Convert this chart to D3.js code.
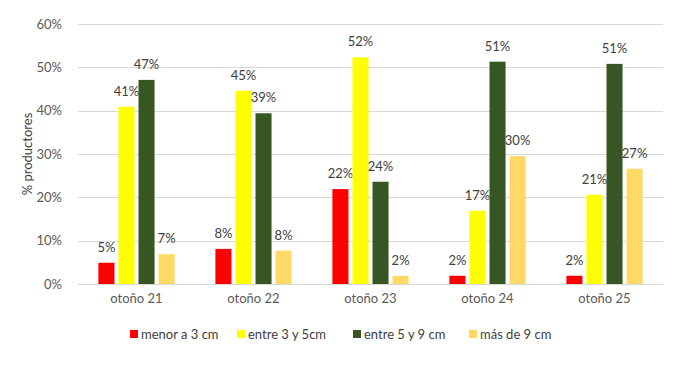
<!DOCTYPE html>
<html><head><meta charset="utf-8">
<script src="https://cdn.jsdelivr.net/npm/d3@7"></script>
<style>body{margin:0;background:#fff}svg{display:block}text{font-family:Lato,"Open Sans",sans-serif}</style>
</head><body><svg id="c" width="676" height="373"></svg>
<script>
const categories = ["otoño 21","otoño 22","otoño 23","otoño 24","otoño 25"];
const seriesNames = ["menor a 3 cm","entre 3 y 5cm","entre 5 y 9 cm","más de 9 cm"];
const menor3 = [0.049,0.081,0.219,0.019,0.019];
const entre3y5 = [0.409,0.446,0.523,0.169,0.206];
const entre5y9 = [0.471,0.394,0.236,0.513,0.508];
const mas9 = [0.069,0.077,0.019,0.295,0.266];
const yTicks = [0,0.1,0.2,0.3,0.4,0.5,0.6];
const colors = ["#FF0000","#FFFF00","#375623","#FFD966"];

const series = [menor3, entre3y5, entre5y9, mas9];
const svg = d3.select("#c");
const m = {l:78, r:13, t:24, b:89};
const W = 676, H = 373;
const FS = 13;
const x0 = d3.scaleBand().domain(categories).range([m.l, W-m.r]).paddingInner(0.28).paddingOuter(0.14);
const x1 = d3.scaleBand().domain(d3.range(4)).range([0, x0.bandwidth()]).padding(0.2);
const y = d3.scaleLinear().domain([0,0.6]).range([H-m.b, m.t]);

// grid
svg.append("g").selectAll("line").data(yTicks).join("line")
  .attr("x1", m.l).attr("x2", W-m.r)
  .attr("y1", d=>Math.round(y(d))+0.5).attr("y2", d=>Math.round(y(d))+0.5)
  .attr("stroke","#D9D9D9").attr("stroke-width",1);

// y axis labels
const ya = svg.append("g").attr("transform",`translate(${m.l-13},0)`)
  .call(d3.axisLeft(y).tickValues(yTicks).tickFormat(d3.format(".0%")).tickSize(0));
ya.select(".domain").remove();
ya.selectAll("text").attr("font-size",FS).attr("fill","#595959").attr("font-family","Lato, sans-serif");

// x axis labels
const xa = svg.append("g").attr("transform",`translate(0,${H-m.b})`)
  .call(d3.axisBottom(x0).tickSize(0).tickPadding(10));
xa.select(".domain").remove();
xa.selectAll("text").attr("font-size",FS).attr("fill","#595959").attr("font-family","Lato, sans-serif");

// y title
svg.append("text").attr("transform",`translate(32,${(m.t+H-m.b)/2}) rotate(-90)`)
  .attr("text-anchor","middle").attr("font-size",FS).attr("fill","#404040").text("% productores");

// bars
const fmt = d3.format(".0%");
series.forEach((vals,si)=>{
  const g = svg.append("g");
  g.selectAll("rect").data(vals).join("rect")
    .attr("x",(d,i)=>x0(categories[i])+x1(si))
    .attr("width",x1.bandwidth())
    .attr("y",d=>y(d)).attr("height",d=>y(0)-y(d))
    .attr("fill",colors[si]);
  g.selectAll("text").data(vals).join("text")
    .attr("x",(d,i)=>x0(categories[i])+x1(si)+x1.bandwidth()/2)
    .attr("y",d=>y(d)-11)
    .attr("text-anchor","middle").attr("font-size",FS).attr("fill","#404040")
    .text(d=>fmt(d));
});

// legend
const legX = [130, 237, 353, 469];
const lg = svg.append("g");
seriesNames.forEach((n,i)=>{
  lg.append("rect").attr("x",legX[i]).attr("y",330).attr("width",8).attr("height",8).attr("fill",colors[i]);
  lg.append("text").attr("x",legX[i]+11).attr("y",339).attr("font-size",FS).attr("fill","#404040").text(n);
});
</script></body></html>
